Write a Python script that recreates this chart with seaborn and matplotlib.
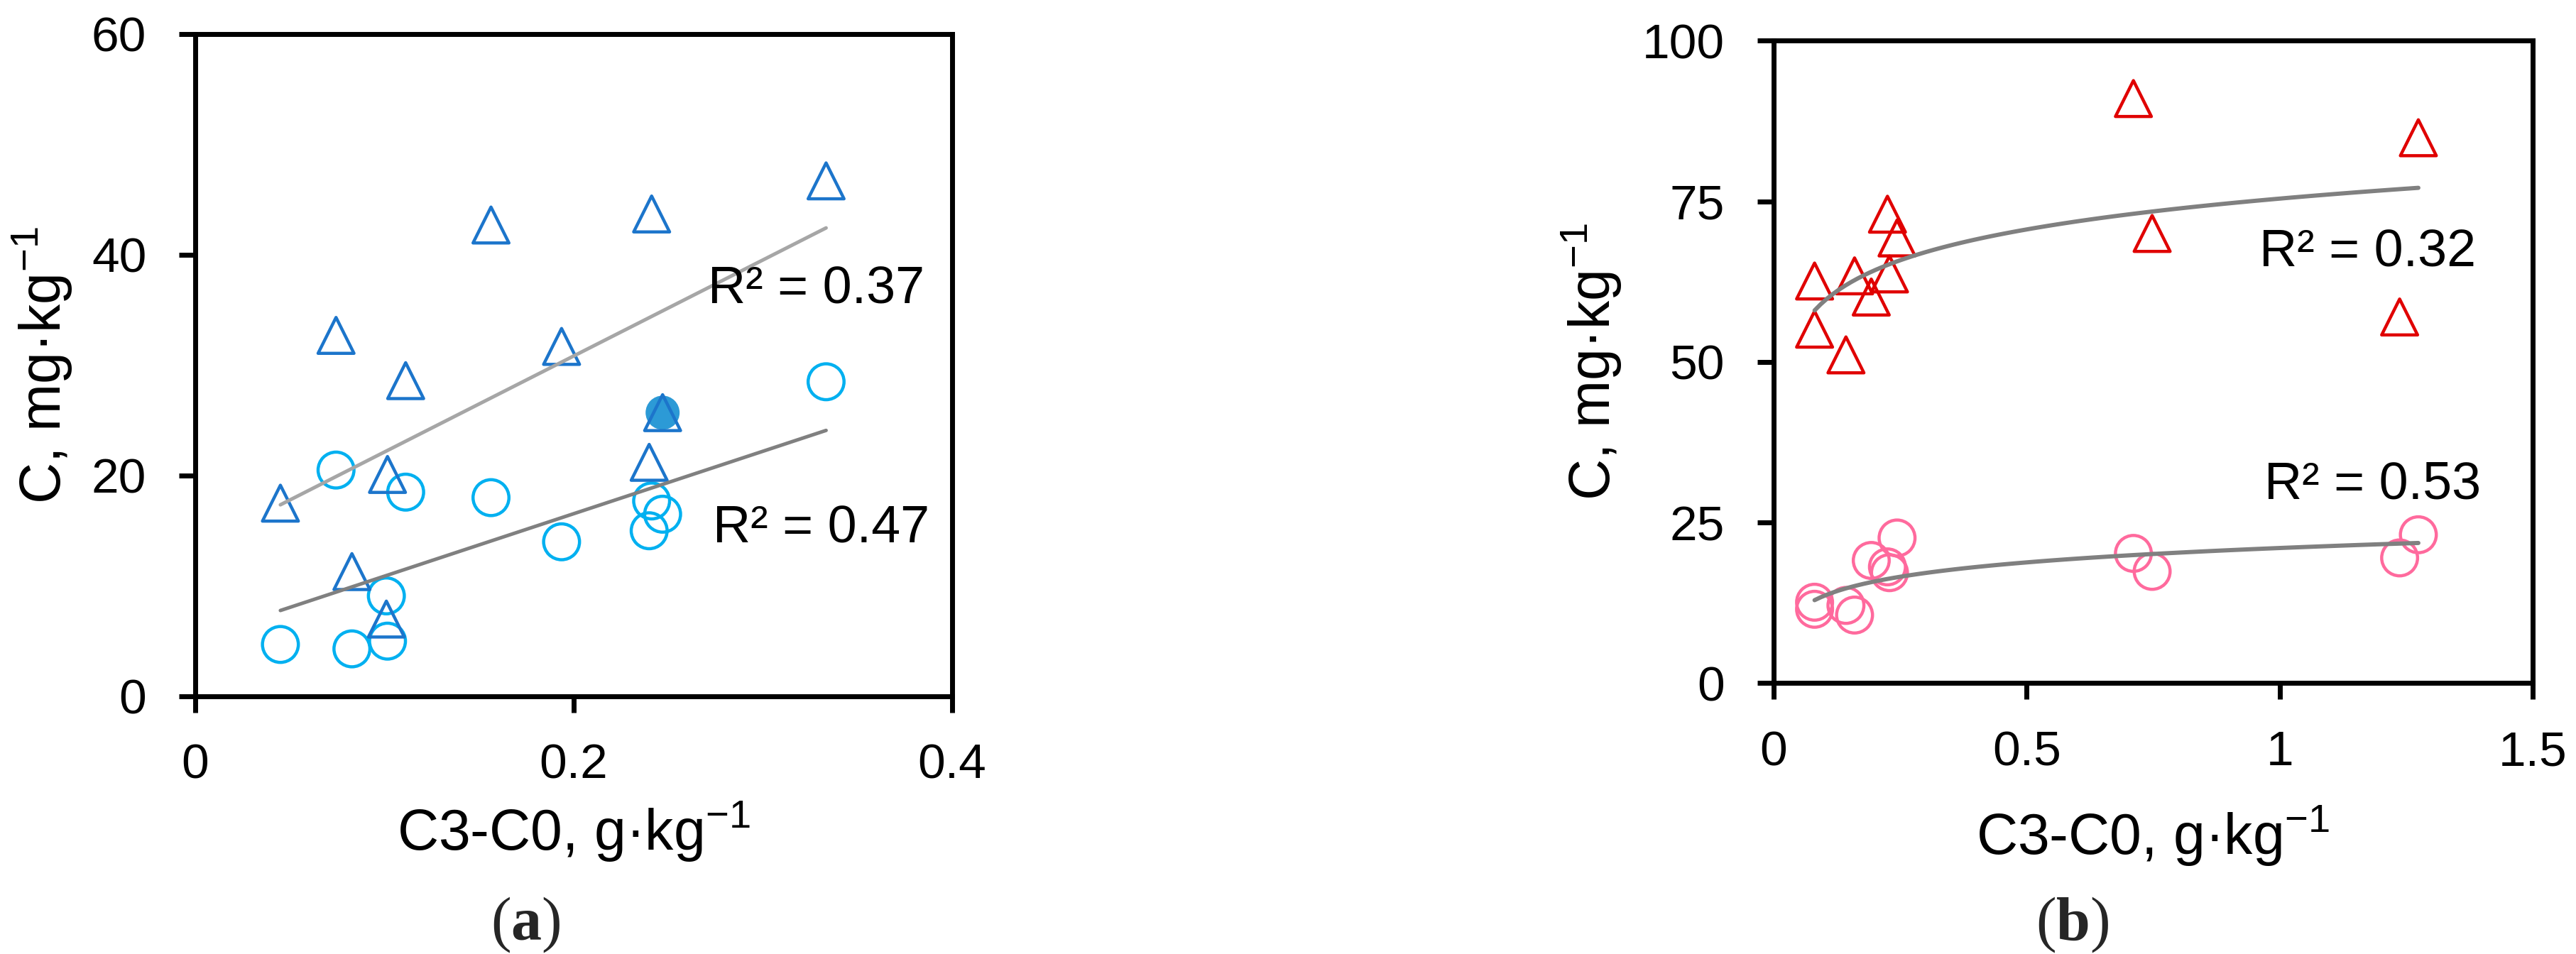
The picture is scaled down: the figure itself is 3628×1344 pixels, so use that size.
import numpy as np
import matplotlib
matplotlib.use("Agg")
import matplotlib.pyplot as plt
import seaborn as sns

# ================================================
# Data
# ================================================
# (a) linear fits
a_x = [0.045, 0.0744, 0.0828, 0.1010, 0.1016, 0.1112, 0.1563, 0.1936, 0.2399, 0.2412, 0.2470, 0.3334]
a_tri = [17.5, 32.7, 11.3, 7.0, 20.1, 28.6, 42.7, 31.7, 21.2, 43.7, 25.7, 46.7]
a_circ = [4.7, 20.5, 4.3, 9.1, 5.0, 18.5, 18.0, 14.0, 15.0, 17.7, 16.5, 28.5]
a_fill_x = [0.247]
a_fill_y = [25.7]
a_r2 = ["R² = 0.37", "R² = 0.47"]
a_r2_pos = [(0.2711, 35.6), (0.2734, 13.9)]

# (b) logarithmic fits
b_x = [0.081, 0.081, 0.143, 0.160, 0.193, 0.225, 0.229, 0.244, 0.711, 0.748, 1.237, 1.274]
b_tri = [62.6, 55.1, 51.1, 63.4, 60.1, 73.0, 63.7, 69.3, 91.0, 70.0, 57.0, 84.9]
b_circ = [12.6, 11.5, 12.1, 10.6, 19.1, 18.1, 17.2, 22.6, 20.2, 17.4, 19.5, 23.1]
b_r2 = ["R² = 0.32", "R² = 0.53"]
b_r2_pos = [(0.960, 64.9), (0.9696, 28.7)]

a_xticks = [0, 0.2, 0.4]
a_xticklabels = ["0", "0.2", "0.4"]
a_yticks = [0, 20, 40, 60]
b_xticks = [0, 0.5, 1, 1.5]
b_xticklabels = ["0", "0.5", "1", "1.5"]
b_yticks = [0, 25, 50, 75, 100]

xlabel = "C3-C0, g·kg$^{-1}$"
ylabel = "C, mg·kg$^{-1}$"

# ================================================
# Style
# ================================================
sns.set_style("ticks")
plt.rcParams["font.family"] = ["Liberation Sans", "DejaVu Sans"]
plt.rcParams["mathtext.fontset"] = "custom"
plt.rcParams["mathtext.rm"] = "Liberation Sans"
plt.rcParams["mathtext.bf"] = "Liberation Serif:bold"
plt.rcParams["mathtext.default"] = "regular"
plt.rcParams["lines.solid_capstyle"] = "round"

MS = 36.4 ** 2      # marker area (pt^2)
MLW = 3.2           # marker edge width

fig = plt.figure(figsize=(36.28, 13.44), dpi=100)
ax_a = fig.add_axes([0.0758, 0.2701, 0.2938, 0.6942])
ax_b = fig.add_axes([0.6885, 0.2839, 0.2947, 0.6734])


def hollow(ax, x, y, marker, color):
    sns.scatterplot(x=x, y=y, marker=marker, s=MS, facecolor="none",
                    edgecolor=color, linewidth=MLW, ax=ax)
    ax.collections[-1].set_joinstyle("round")


def style_axes(ax, xticks, xticklabels, yticks, xlab_y, ylab_x):
    for s in ax.spines.values():
        s.set_visible(True)
        s.set_linewidth(5)
        s.set_color("black")
    ax.set_xlim(xticks[0], xticks[-1])
    ax.set_ylim(yticks[0], yticks[-1])
    ax.set_xticks(xticks, xticklabels)
    ax.set_yticks(yticks, [str(v) for v in yticks])
    ax.tick_params(axis="both", direction="out", length=16.5, width=5,
                   colors="black", labelsize=50, bottom=True, left=True,
                   top=False, right=False)
    ax.tick_params(axis="x", pad=31)
    ax.tick_params(axis="y", pad=33)
    ax.set_xlabel(xlabel, fontsize=58, color="black")
    ax.set_ylabel(ylabel, fontsize=58, color="black")
    ax.xaxis.set_label_coords(0.5, xlab_y)
    ax.xaxis.label.set_va("baseline")
    ax.yaxis.set_label_coords(ylab_x, 0.5)
    ax.yaxis.label.set_va("baseline")


# ================================================
# (a)
# ================================================
sns.scatterplot(x=a_fill_x, y=a_fill_y, marker="o", s=34.5 ** 2,
                color="#2C9AD6", edgecolor="none", ax=ax_a)
hollow(ax_a, a_x, a_circ, "o", "#00B0F0")
hollow(ax_a, a_x, a_tri, "^", "#1C75CB")
sns.regplot(x=np.array(a_x), y=np.array(a_tri), scatter=False, ci=None,
            color="#A6A6A6", line_kws={"lw": 3.6}, ax=ax_a)
sns.regplot(x=np.array(a_x), y=np.array(a_circ), scatter=False, ci=None,
            color="#808080", line_kws={"lw": 3.6}, ax=ax_a)
for txt, (tx, ty) in zip(a_r2, a_r2_pos):
    ax_a.text(tx, ty, txt, fontsize=53, ha="left", va="baseline", color="black")
style_axes(ax_a, a_xticks, a_xticklabels, a_yticks, -0.2315, -0.178)

# ================================================
# (b)
# ================================================
hollow(ax_b, b_x, b_circ, "o", "#FF6A9D")
hollow(ax_b, b_x, b_tri, "^", "#E00000")
sns.regplot(x=np.array(b_x), y=np.array(b_tri), scatter=False, ci=None, logx=True,
            color="#808080", line_kws={"lw": 4.3}, ax=ax_b)
sns.regplot(x=np.array(b_x), y=np.array(b_circ), scatter=False, ci=None, logx=True,
            color="#808080", line_kws={"lw": 4.3}, ax=ax_b)
for txt, (tx, ty) in zip(b_r2, b_r2_pos):
    ax_b.text(tx, ty, txt, fontsize=53, ha="left", va="baseline", color="black")
style_axes(ax_b, b_xticks, b_xticklabels, b_yticks, -0.2657, -0.216)

# panel letters
fig.text(0.204, 0.0305, r"($\mathbf{a}$)", ha="center", va="center",
         fontsize=62, family="Liberation Serif")
fig.text(0.8046, 0.0305, r"($\mathbf{b}$)", ha="center", va="center",
         fontsize=62, family="Liberation Serif")

fig.savefig("out.png", dpi=100)
